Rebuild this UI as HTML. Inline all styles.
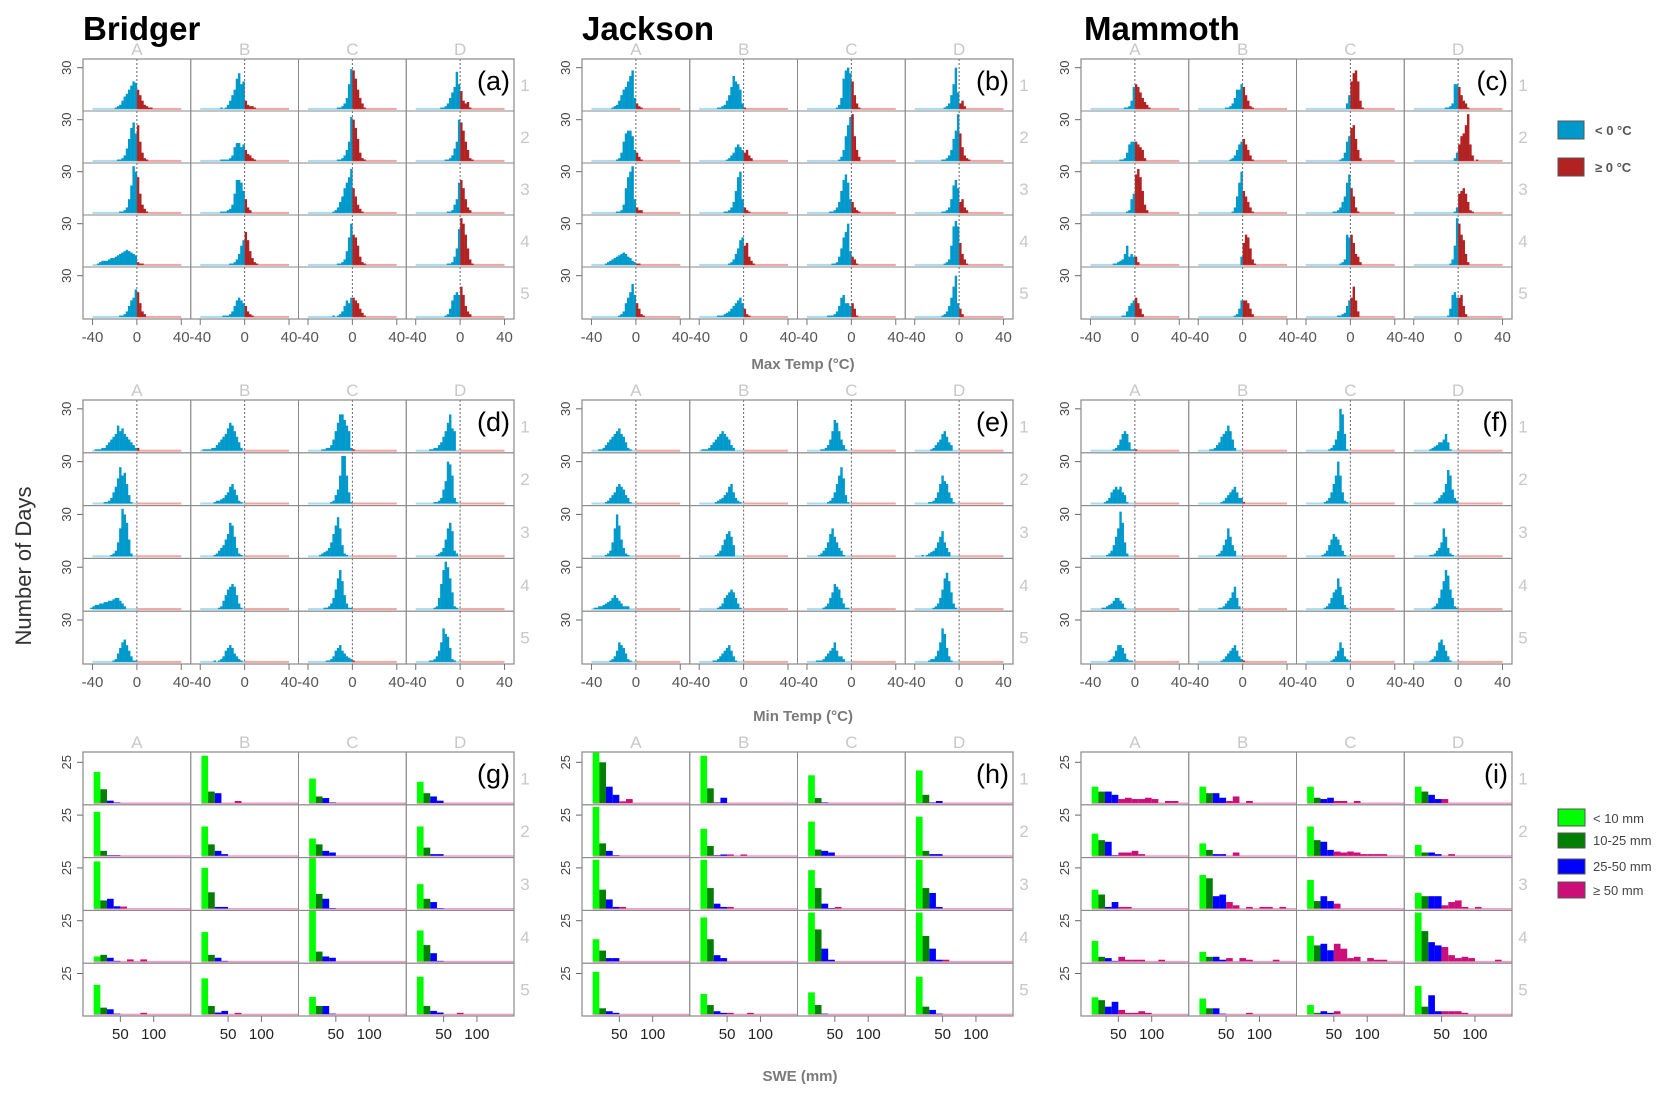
<!DOCTYPE html>
<html><head><meta charset="utf-8"><title>Bridger Jackson Mammoth histograms</title>
<style>
html,body{margin:0;padding:0;background:#fff;}
svg{display:block;font-family:"Liberation Sans",Arial,sans-serif;}
</style></head>
<body>
<svg id="chart" width="1665" height="1096" viewBox="0 0 1665 1096" xmlns="http://www.w3.org/2000/svg">
<text x="83" y="40" font-size="33" font-weight="bold" fill="#000">Bridger</text>
<text x="582" y="40" font-size="33" font-weight="bold" fill="#000">Jackson</text>
<text x="1084" y="40" font-size="33" font-weight="bold" fill="#000">Mammoth</text>
<text transform="translate(31,566) rotate(-90)" text-anchor="middle" font-size="22" fill="#333">Number of Days</text>
<text x="803" y="369" text-anchor="middle" font-size="15" font-weight="bold" fill="#7a7a7a">Max Temp (°C)</text>
<text x="803" y="721" text-anchor="middle" font-size="15" font-weight="bold" fill="#7a7a7a">Min Temp (°C)</text>
<text x="800" y="1081" text-anchor="middle" font-size="15" font-weight="bold" fill="#7a7a7a">SWE (mm)</text>
<g>
<rect x="1558" y="121" width="26" height="18" fill="#0099cc" stroke="#555" stroke-width="1"/>
<text x="1595" y="135" font-size="13" font-weight="bold" fill="#555">&lt; 0 °C</text>
<rect x="1558" y="158" width="26" height="18" fill="#b22222" stroke="#555" stroke-width="1"/>
<text x="1595" y="172" font-size="13" font-weight="bold" fill="#555">≥ 0 °C</text>
</g>
<g>
<rect x="1558" y="809" width="27" height="17" fill="#00ff00" stroke="#555"/>
<text x="1593" y="823" font-size="13" fill="#444">&lt; 10 mm</text>
<rect x="1558" y="833" width="27" height="15" fill="#008000" stroke="#555"/>
<text x="1593" y="845" font-size="13" fill="#444">10-25 mm</text>
<rect x="1558" y="859" width="27" height="15" fill="#0000ff" stroke="#555"/>
<text x="1593" y="871" font-size="13" fill="#444">25-50 mm</text>
<rect x="1558" y="882" width="27" height="16" fill="#cc0f78" stroke="#555"/>
<text x="1593" y="895" font-size="13" fill="#444">≥ 50 mm</text>
</g>
<g id="plots"></g>
</svg>
<script>
// ---- data: temperature histograms, 2 degC bins, "binStart: counts", rows 1-5 x cols A-D ----
const maxBridger = [
"-20:1 2 3 6 9 11 14 17 20 19 14 10 6 3 2 1 1","-22:1 0 1 3 6 10 14 22 26 18 20 6 3 2 2 1","-14:1 1 2 4 8 18 29 28 22 14 8 4 1","-18:1 1 2 4 8 12 16 27 18 13 6 4 5 1",
"-18:1 1 2 4 9 16 24 28 20 26 14 6 2 1","-22:1 1 1 1 2 4 10 13 13 10 12 8 5 4 2 1","-14:1 1 2 4 8 14 32 30 24 16 6 2 1","-14:1 1 2 4 9 14 30 28 22 14 8 2 1",
"-16:1 1 2 4 10 20 34 30 26 14 6 3 1","-22:1 1 1 2 3 6 14 24 24 22 16 10 4 2","-18:1 2 4 8 12 18 22 26 32 18 12 6 3 1","-12:1 1 2 6 10 22 24 18 10 4 2",
"-36:1 2 3 3 3 4 5 5 6 7 8 9 10 11 10 9 8 7 2 1 1","-14:1 1 2 4 8 14 18 24 18 10 5 2 1","-14:1 1 2 4 10 20 30 22 20 14 6 2 1","-12:1 1 2 6 12 26 34 30 22 12 4 1",
"-16:1 1 2 4 8 12 14 20 18 10 4 2","-20:1 1 1 2 4 8 12 14 12 10 8 4 2 1","-18:1 0 1 2 4 8 12 10 14 14 12 10 6 3 1","-14:1 2 6 12 16 18 16 22 16 8 4 2"];
const maxJackson = [
"-22:1 2 3 6 10 14 16 20 24 28 8 4 2 1","-24:1 1 2 3 6 10 16 24 20 18 14 4 1","-14:1 3 8 22 28 30 26 20 10 4 1","-14:1 2 4 10 18 30 12 4 6 2",
"-18:1 2 6 14 20 22 22 18 8 6 3 1","-16:1 2 4 6 10 12 10 8 6 8 4 2","-12:1 3 8 18 26 32 34 18 8 3","-16:1 1 2 4 8 16 22 34 20 10 4 2 1",
"-18:1 1 2 6 18 26 30 34 10 4 2 2","-18:1 1 2 4 8 16 26 30 10 4 2 1","-20:1 1 2 4 8 16 24 28 22 10 8 4 2 1","-16:1 1 2 4 10 20 24 18 8 10 4 2",
"-28:1 2 3 4 5 6 7 8 9 8 6 5 3 2 1 1","-14:1 2 4 8 12 18 20 14 16 6 3 1","-18:1 1 2 6 12 20 24 30 10 6 4 1","-14:1 2 4 14 28 32 28 16 8 4 1",
"-16:1 2 4 10 14 18 24 16 10 6 2 1","-24:1 1 1 2 3 4 6 8 10 12 14 10 6 2 1","-22:1 1 1 2 4 8 14 16 10 10 8 10 6 1","-16:1 2 4 8 14 22 30 10 6 2"];
const maxMammoth = [
"-10:1 1 2 6 16 18 16 12 8 5 3 1","-16:1 1 2 4 8 14 14 18 16 10 6 2 1","-4:4 10 20 26 28 20 6 1","-12:1 1 2 4 18 18 16 10 6 4 1",
"-14:1 1 2 6 12 14 14 14 12 10 8 2","-12:1 2 4 8 12 14 16 12 8 4 1","-10:1 2 6 14 18 24 26 16 8 2","-4:2 6 12 18 20 26 34 12 4 0 1",
"-8:1 2 10 14 28 32 26 16 6 2","-10:1 4 12 22 30 16 12 8 4 1","-16:1 1 2 4 8 12 22 28 18 12 4 1","-4:1 4 14 16 18 14 8 2 1",
"-20:1 1 2 3 4 8 14 6 8 6 6 2","-4:0 6 16 22 20 12 4 1","-10:1 2 4 22 20 22 16 8 6 2","-8:1 4 14 34 30 22 18 8 2",
"-12:1 1 4 8 10 12 14 10 6 2","-8:1 2 6 12 12 12 10 6 2","-12:1 1 2 3 8 12 14 22 12 4","-10:1 6 16 18 14 14 16 8 2"];
const minBridger = [
"-38:1 1 1 2 2 4 6 8 10 12 18 14 16 12 10 8 6 4 2 2","-38:1 1 1 1 2 2 4 6 8 10 12 16 20 18 14 10 6 2 0","-28:1 1 2 2 4 8 14 20 26 26 22 18 14 2 1","-28:1 1 2 2 4 6 10 14 20 26 16 14 0",
"-30:1 1 2 4 8 12 18 26 20 22 14 6 1","-28:1 2 2 3 4 6 8 12 14 10 6 2 1","-20:1 2 6 10 20 34 34 20 8 1","-24:1 1 2 4 10 16 30 28 20 4 1",
"-24:1 2 4 10 20 34 30 24 12 2","-28:1 2 4 6 8 12 16 24 22 14 6 2 1","-30:1 2 3 4 6 10 16 22 28 20 8 2 1","-22:1 2 3 6 12 20 24 18 4 2",
"-42:1 2 3 3 4 4 5 5 6 6 7 8 8 6 4 2","-24:1 2 6 10 14 16 18 16 10 4 1","-26:1 1 2 4 8 14 22 28 20 10 4 1 1","-24:1 2 8 18 28 34 30 22 12 2 1",
"-22:1 2 6 10 14 16 12 8 4 1 1","-28:1 0 1 2 4 8 10 12 10 6 4 2 1","-24:1 1 2 4 8 10 12 8 6 4 3 2 1","-28:1 1 2 4 8 14 24 20 18 10 2 1"];
const minJackson = [
"-34:1 1 2 4 6 8 10 12 14 16 12 10 6 2 1","-38:1 1 1 2 4 6 8 10 12 14 12 10 8 4 2 0","-28:1 1 2 4 8 14 22 20 14 8 4 1","-26:1 2 4 6 8 12 14 10 6 4 0",
"-28:1 2 4 6 8 12 14 12 10 6 4 1","-26:1 2 3 4 6 8 12 14 8 4 2 1","-22:1 2 4 8 14 20 26 18 6 1","-28:1 1 2 4 8 14 20 16 14 8 4 1",
"-28:1 2 4 10 20 30 22 12 6 2 1","-26:1 2 4 8 12 16 18 14 8 0","-30:1 2 4 6 10 16 20 14 10 6 4 1","-34:1 0 1 2 3 4 6 10 14 18 10 6 3",
"-38:1 1 2 2 3 4 5 6 8 10 8 6 4 2 2 2 0","-24:1 2 4 8 10 12 14 12 8 4 1","-26:1 2 4 8 12 18 16 14 8 4 1 1","-24:1 2 4 8 14 22 26 20 12 4 1",
"-24:1 2 4 8 14 12 10 6 2 1","-28:1 1 2 4 6 8 10 12 8 4 1","-32:1 1 1 2 4 6 8 10 14 8 4 4 2","-28:1 2 2 4 8 14 24 20 10 4 1"];
const minMammoth = [
"-20:1 2 4 8 12 14 12 6 1 1 1","-30:1 1 2 4 6 10 12 14 18 14 8 2","-20:1 2 4 8 14 30 26 12 1","-26:1 2 3 4 6 6 8 12 6 1",
"-28:1 2 4 8 10 12 10 12 8 6 1","-20:1 2 4 6 8 10 12 8 4 4 1","-24:1 2 4 8 14 20 30 20 8 2 1","-22:1 2 4 6 8 14 24 20 10 4 2",
"-26:1 2 4 8 14 20 32 24 10 2","-24:1 2 4 8 12 20 14 8 4 0","-26:1 2 4 8 12 16 14 12 8 4 1","-26:1 1 2 4 6 10 20 14 6 2 1",
"-30:1 1 2 3 4 6 8 8 6 4 1","-22:1 1 2 4 6 8 12 16 8 2","-24:1 2 4 8 12 14 22 16 10 3 1","-24:1 2 4 8 14 20 28 24 14 8 2 1",
"-24:1 2 4 8 12 12 10 6 2 1 1","-20:1 2 4 6 8 10 12 8 4 2 1","-18:1 2 4 8 14 10 4 2 1","-26:1 2 4 8 14 16 12 8 4 1"];
// ---- data: SWE histograms, 10 mm bins starting at 10 mm ----
const sweBridger = [
[19,8.4,1.4,0.3],[29,7,6,0,0,1.2],[15,4,3,0.3],[13,6,4,1.4],
[27,3,0.3,0.3],[18,7,3,1],[10.6,7,3,2],[18,5,1,1],
[29,5,6,1.4,1.2],[25,10,1,1],[31,9,6,0.3],[15,6,4,0.3],
[3,4,2.2,0.3,0,1.2,0,1.2],[18,4,2.2,0.3],[31,6,3,2.2],[19,10,5,0.3],
[18,4,3,0.3,0,0,0,0.8],[22,5,1,2,0,0.8],[10.6,5,5,0.3],[23,5,2,1,0,0,0.8]];
const sweJackson = [
[31,25,10,5,1,2.4],[29,9,0.3,3.2],[17,3,0.3],[20,5,0.3,1.2],
[30,7.6,3,0.3],[16.6,6,0.3,0.8,0.8,0,0.8],[21,3.8,3,2],[24,3,1,1],
[30,11.6,5.6,1,1],[30,12.6,3,1,1],[23.6,12.6,3,0.3,1],[30,12.6,9.6,1],
[13.6,6.6,2,2],[27,13.6,3.8,2],[30,19.6,7.8,1],[30,15.6,7.8,1,1],
[26,3.6,1.8,0.8],[12.4,5.6,1.8,0.8,0.8,0,0,0.8],[13.4,5.6,0.3],[23,4.6,2.6,0.3]];
const sweMammoth = [
[10,7,7,5,2.4,3.2,2.4,2.4,3.2,2.4,0,1.2,1.2],[10,6,6,3.2,1.2,4,0,1.2],[10,3.2,2.4,3.2,1.2,1.2,0,1.2],[10,7,5,2.4,2.4],
[13.6,9.6,8.6,0.3,2,2,3,1],[7.6,3.6,1,1,0,2],[18,9.6,8.6,3.6,2.6,2,2.6,2,1,1,1,1],[6.6,2,2,1,0,1],
[11.6,8.6,1,4,1,1],[20.6,18.6,7.6,8.6,4,2,0,1,0,1,1,0,1],[17.6,4.6,7.6,4.6,3],[9.6,7.6,7.6,7.6,2,4,5,1,0,1],
[12.6,2.8,2,0.3,2.8,1,1,1,0,0,1],[5.8,2.8,2.8,1,2,0,2,1,0,0,0,1],[15.6,9.8,10.8,6.8,10.8,7.8,2,2.8,0,2,1,1],[30,18.6,11.8,9.8,8.8,3.8,2,2.8,2,0,0,0,1],
[10.4,8.6,4.6,7.6,2.6,0.8,0.8,1.8,0.8],[9.6,3.6,3.6,0.3,0,0,0,0.8],[5.6,0.8,1.8,0.8,1.8],[17.4,4.6,11.6,1.8,1.8,1.8,1.8,0.8]];
// ---- tick labels ----
const colLabels = ["A","B","C","D"];
const rowLabels = ["1","2","3","4","5"];
const tempTicks = [-40,0,40];
const sweTicks = [50,100];
const tempYTick = 30;
const sweYTick = 25;
const panelLetters = ["(a)","(b)","(c)","(d)","(e)","(f)","(g)","(h)","(i)"];

const NS = "http://www.w3.org/2000/svg";
const root = document.getElementById('plots');
function mk(tag, attrs, parent){
  const e = document.createElementNS(NS, tag);
  for (const k in attrs) e.setAttribute(k, attrs[k]);
  (parent||root).appendChild(e);
  return e;
}
function parseHist(s){
  const p = s.split(':');
  return {start:+p[0], counts:p[1].trim().split(/\s+/).map(Number)};
}
const PX = [83, 582, 1081];
const PY = [59, 400, 752];
const PH = [260, 264, 264];
const PW = 431;
const CW = PW/4;
const temps = [[maxBridger,maxJackson,maxMammoth],[minBridger,minJackson,minMammoth]];
const swes = [sweBridger,sweJackson,sweMammoth];
const BLUE="#0099cc", RED="#b22222", LBLUE="#a9dcef", LRED="#f2a5a5";
const SWEC = ["#00ff00","#008000","#0000ff","#0000ff"], PINK="#cc0f78";

let clipId = 0;
for (let pr=0; pr<3; pr++){
  for (let pc=0; pc<3; pc++){
    const px0 = PX[pc], py0 = PY[pr], ph = PH[pr], rh = ph/5;
    const isSwe = pr===2;
    const g = mk('g', {});
    
    
    for (let r=0; r<5; r++){
      for (let c=0; c<4; c++){
        const cx0 = px0 + c*CW, ry0 = py0 + r*rh;
        const cell = mk('g', {}, g);
        
        
        const cid = 'clip' + (clipId++);
        const cp = mk('clipPath', {id:cid}, cell);
        mk('rect', {x:cx0, y:ry0, width:CW, height:rh}, cp);
        const inner = mk('g', {'clip-path':'url(#'+cid+')'}, cell);
        if (!isSwe){
          const xs = v => cx0 + CW*0.5 + v*CW*0.00103*10;
          const base = ry0 + rh*0.96;
          const unit = rh*(0.96-0.167)/tempYTick;
          mk('rect', {x:xs(-40), y:base-1, width:xs(0)-xs(-40), height:2, fill:LBLUE}, inner);
          mk('rect', {x:xs(0), y:base-1, width:xs(40)-xs(0), height:2, fill:LRED}, inner);
          const h = parseHist(temps[pr][pc][r*4+c]);
          h.counts.forEach((v,i)=>{
            const left = h.start + 2*i;
            if (v<=0) return;
            const b = mk('rect', {x:xs(left), y:base - v*unit, width:xs(left+2)-xs(left)+0.2, height:v*unit, fill: left<0?BLUE:RED}, inner);
            
            
          });
          mk('line', {x1:xs(0), x2:xs(0), y1:ry0, y2:ry0+rh, stroke:'#666', 'stroke-width':1, 'stroke-dasharray':'2,2'}, cell);
        } else {
          const xs = v => cx0 + 4 + v*0.667;
          const base = ry0 + rh*0.965;
          const unit = rh*(0.965-0.195)/sweYTick;
          mk('rect', {x:xs(10), y:base-0.5, width:cx0+CW-xs(10), height:1.6, fill:'#f0a0c8'}, inner);
          const arr = swes[pc][r*4+c];
          arr.forEach((v,i)=>{
            if (v<=0) return;
            const left = 10 + 10*i;
            const b = mk('rect', {x:xs(left), y:base - v*unit, width:xs(left+10)-xs(left), height:v*unit, fill: i<4?SWEC[i]:PINK}, inner);
            
            
          });
        }
        mk('rect', {x:cx0, y:ry0, width:CW, height:rh, fill:'none', stroke:'#8a8a8a', 'stroke-width':1}, cell);
      }
      // y tick per row
      const ty = isSwe ? py0 + r*rh + rh*0.195 : py0 + r*rh + rh*0.167;
      mk('line', {x1:px0-6, x2:px0, y1:ty, y2:ty, stroke:'#666'}, g);
      const yl = mk('text', {transform:'translate('+(px0-12)+','+ty+') rotate(-90)', 'text-anchor':'middle', 'font-size':13, fill:'#444'}, g);
      yl.textContent = isSwe ? sweYTick : tempYTick;
      
      
      const rl = mk('text', {x:px0+PW+11, y:py0 + r*rh + rh*0.5 + 6, 'text-anchor':'middle', 'font-size':17, fill:'#c8c8c8'}, g);
      rl.textContent = rowLabels[r];
      
      
    }
    mk('rect', {x:px0, y:py0, width:PW, height:ph, fill:'none', stroke:'#8a8a8a', 'stroke-width':1.2}, g);
    for (let c=0; c<4; c++){
      const cx0 = px0 + c*CW;
      const cl = mk('text', {x:cx0+CW/2, y:py0-4, 'text-anchor':'middle', 'font-size':17, fill:'#c8c8c8'}, g);
      cl.textContent = colLabels[c];
      
      
      const ticks = isSwe ? sweTicks : tempTicks;
      ticks.forEach(t=>{
        const x = isSwe ? cx0 + 4 + t*0.667 : cx0 + CW*0.5 + t*CW*0.0103;
        mk('line', {x1:x, x2:x, y1:py0+ph, y2:py0+ph+6, stroke:'#777'}, g);
        const tl = mk('text', {x:x, y:py0+ph+23, 'text-anchor':'middle', 'font-size':15, fill: isSwe?'#222':'#555'}, g);
        tl.textContent = t;
        
        
      });
    }
    const pl = mk('text', {x:px0+PW-4, y:py0+31, 'text-anchor':'end', 'font-size':27, fill:'#000'}, g);
    pl.textContent = panelLetters[pr*3+pc];
    
    
  }
}
</script>
</body></html>
